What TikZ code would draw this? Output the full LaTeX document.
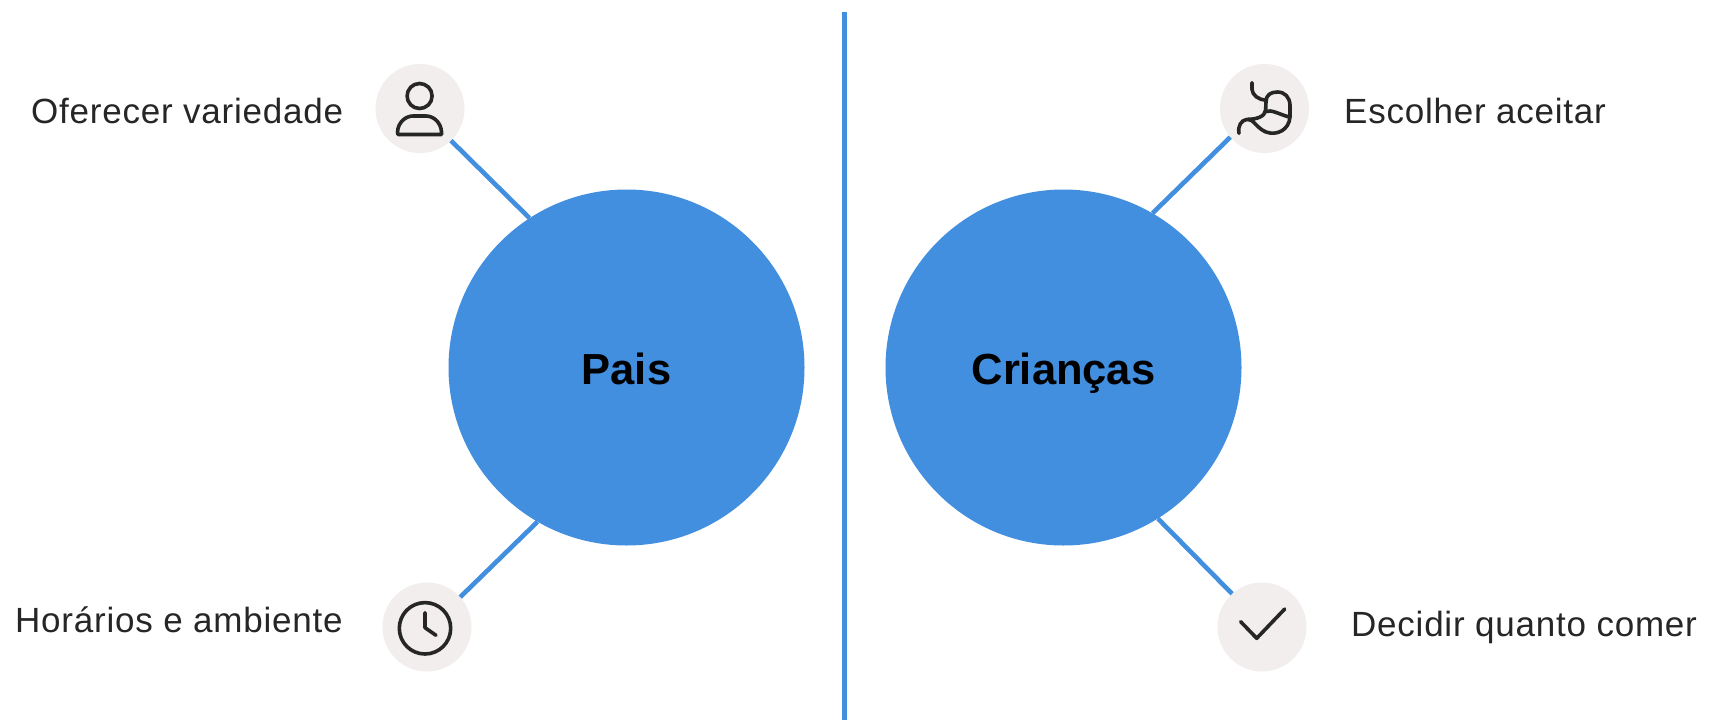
\documentclass[tikz,border=0pt]{standalone}
\usepackage{fontspec}
\setmainfont{Liberation Sans}
\newfontfamily\lblfont[LetterSpace=2.2]{Liberation Sans}
\definecolor{bl}{HTML}{428FE0}
\definecolor{bg}{HTML}{F1EEED}
\definecolor{ink}{HTML}{262626}
\tikzset{
 big/.style={circle,fill=bl,inner sep=0pt,minimum size=356pt,text height=42pt,text depth=8pt,font=\fontsize{43.5}{44}\selectfont\bfseries,text=black},
 iconbg/.style={circle,fill=bg,inner sep=0pt,minimum size=89pt},
 lbl/.style={anchor=base west,inner sep=0pt,font=\lblfont\fontsize{35}{36}\selectfont,text=ink},
 link/.style={draw=bl,line width=4.6pt},
 ico/.style={draw=ink,line width=3.6pt,line cap=round,line join=round},
}
\begin{document}
\begin{tikzpicture}[x=1pt,y=-1pt]
\useasboundingbox (0,0) rectangle (1710,720);
\fill[white] (0,0) rectangle (1710,720);
\coordinate (dt) at (844.7,12);
\coordinate (db) at (844.7,720);
\draw[bl,line width=5.4pt] (dt) -- (db);
\node[big] (pais) at (626.5,367.5) {Pais};
\node[big] (cri) at (1063.5,367.5) {Crianças};
\node[iconbg] (a) at (420,108.5) {};
\node[iconbg] (b) at (1264.5,108.5) {};
\node[iconbg] (c) at (427,627) {};
\node[iconbg] (d) at (1262,627) {};
\draw[link] (a.-46) -- (pais.123);
\draw[link] (b.220) -- (cri.60.7);
\draw[link] (c.42.6) -- (pais.240.3);
\draw[link] (d.132) -- (cri.-58.6);
\node[lbl] (ta) at (31,123.5) {Oferecer variedade};
\node[lbl] (tb) at (1344,123.5) {Escolher aceitar};
\node[lbl] (tc) at (15,632.5) {Horários e ambiente};
\node[lbl] (td) at (1351,636) {Decidir quanto comer};
% person
\draw[ico] (419.6,96) circle (12.5);
\draw[ico] (398,134.5) -- (441.5,134.5) -- (441.5,132) .. controls (441,122) and (433,116) .. (426,116) -- (413,116) .. controls (406,116) and (398,122) .. (397.5,132) -- cycle;
% stomach
\begin{scope}[shift={(1140,60)},x=0.3333pt,y=-0.3333pt]
\draw[ico] (336,68) -- (336,88) .. controls (337,105) and (355,120) .. (378,120);
\draw[ico] (297,220) .. controls (293,198) and (303,180) .. (322,178) .. controls (340,176) and (350,205) .. (378,216) .. controls (410,228) and (448,210) .. (450,170) -- (450,135) .. controls (449,112) and (435,96) .. (412,96) .. controls (392,96) and (378,105) .. (378,125) -- (377,150) .. controls (375,170) and (350,178) .. (322,178);
\draw[ico] (377,155) .. controls (395,148) and (410,160) .. (450,172);
\end{scope}
% clock
\draw[ico] (425,628.3) circle (25.7);
\draw[ico] (425,612.7) -- (425,627.7) -- (436,635.3);
% check
\draw[ico] (1240.7,621.7) -- (1256.7,638.3) -- (1284.7,609);
\end{tikzpicture}
\end{document}
